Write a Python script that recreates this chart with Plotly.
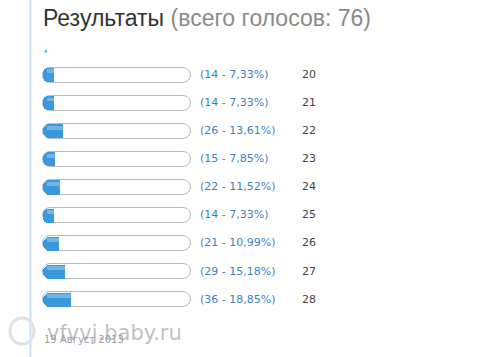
import plotly.graph_objects as go

options = ["20", "21", "22", "23", "24", "25", "26", "27", "28"]
votes = [14, 14, 26, 15, 22, 14, 21, 29, 36]
percents = [7.33, 7.33, 13.61, 7.85, 11.52, 7.33, 10.99, 15.18, 18.85]
total_votes = 76
title_main = "Результаты"
title_sub = "(всего голосов: 76)"
date_text = "19 Август 2013"
watermark = "vfvvj.baby.ru"

W, H = 480, 357
x0_px, x100_px = 43, 191
ppu = (x100_px - x0_px) / 100.0
x_range = [-x0_px / ppu, (W - x0_px) / ppu]
label_x = (200 - x0_px) / ppu
num_x = (302 - x0_px) / ppu

rows = list(range(len(options)))
n = len(rows)
labels = ["(%d - %s%%)" % (v, ("%.2f" % p).replace(".", ",")) for v, p in zip(votes, percents)]

bw = 0.53
common = dict(orientation="h", hoverinfo="skip", showlegend=False)
fig = go.Figure()
# track (pill shape)
fig.add_trace(go.Bar(y=rows, x=[100] * n, base=[0] * n, width=bw,
                     marker=dict(color="white", line=dict(color="#b9b9b9", width=1), cornerradius="50%"),
                     **common))
# fill (rounded), then square its right end
fig.add_trace(go.Bar(y=rows, x=percents, base=[0] * n, width=bw - 0.03,
                     marker=dict(color="#3b98dc", line=dict(width=0), cornerradius="50%"),
                     **common))
fig.add_trace(go.Bar(y=rows, x=[4] * n, base=[p - 4 for p in percents], width=bw - 0.03,
                     marker=dict(color="#3b98dc", line=dict(width=0), cornerradius=0), **common))
# highlight on upper part of fill
fig.add_trace(go.Bar(y=rows, x=[p - 3 for p in percents], base=[3] * n,
                     width=0.14, offset=-0.2,
                     marker=dict(color="#8dcdf3", line=dict(width=0), opacity=0.6, cornerradius=0), **common))
# labels
fig.add_trace(go.Scatter(y=rows, x=[label_x] * n, mode="text", text=labels,
                         textposition="middle right",
                         textfont=dict(family="DejaVu Sans", size=11, color="#3e7fbf"),
                         hoverinfo="skip", showlegend=False))
fig.add_trace(go.Scatter(y=rows, x=[num_x] * n, mode="text", text=options,
                         textposition="middle right",
                         textfont=dict(family="DejaVu Sans", size=11, color="#444444"),
                         hoverinfo="skip", showlegend=False))

top_px, bot_px = 61, 314
fig.update_layout(
    width=W, height=H, margin=dict(l=0, r=0, t=0, b=0),
    paper_bgcolor="white", plot_bgcolor="white",
    barmode="overlay", bargap=0,
    xaxis=dict(range=x_range, visible=False, fixedrange=True),
    yaxis=dict(range=[n - 0.5, -0.5], visible=False, fixedrange=True,
               domain=[1 - bot_px / H, 1 - top_px / H]),
    showlegend=False,
)

fig.add_shape(type="line", xref="paper", yref="paper", x0=30.5 / W, x1=30.5 / W, y0=0, y1=1,
              line=dict(color="#cfe2f3", width=2))
fig.add_shape(type="circle", xref="paper", yref="paper",
              x0=10 / W, x1=34 / W, y0=1 - 344 / H, y1=1 - 318 / H,
              line=dict(color="#e2e2e2", width=3))

fig.add_annotation(xref="paper", yref="paper", x=41 / W, y=1 - 18 / H, xanchor="left", yanchor="middle",
                   showarrow=False,
                   text=title_main + " <span style='color:#8a8a8a'>" + title_sub + "</span>",
                   font=dict(family="Liberation Sans", size=23, color="#333333"))
fig.add_annotation(xref="paper", yref="paper", x=42 / W, y=1 - 48 / H, xanchor="left", yanchor="middle",
                   showarrow=False, text=",", font=dict(family="DejaVu Sans", size=12, color="#3e7fbf"))
fig.add_annotation(xref="paper", yref="paper", x=42 / W, y=1 - 339 / H, xanchor="left", yanchor="middle",
                   showarrow=False, text=date_text, font=dict(family="DejaVu Sans", size=10, color="#a0a0a0"))
fig.add_annotation(xref="paper", yref="paper", x=45 / W, y=1 - 333 / H, xanchor="left", yanchor="middle",
                   showarrow=False, text=watermark,
                   font=dict(family="DejaVu Sans", size=21, color="rgba(150,150,150,0.6)"))

fig.write_html("out.html", config={"displayModeBar": False},
               post_script="document.body.style.margin='0';document.body.style.overflow='hidden';")
